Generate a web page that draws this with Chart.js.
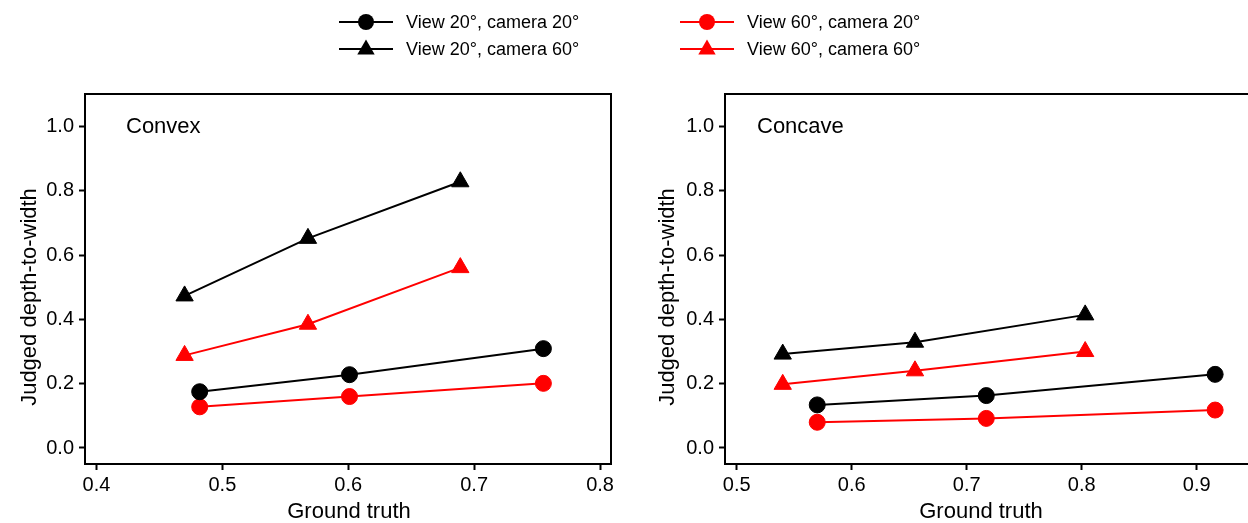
<!DOCTYPE html>
<html>
<head>
  <title>Judged depth-to-width vs ground truth</title>
  <script src="https://cdn.jsdelivr.net/npm/chart.js"></script>
  <style>
    body {
      margin: 0;
      background: #fff;
      font-family: 'Liberation Sans', Arial, sans-serif;
    }
    #wrap { position: relative; width: 1248px; height: 523px; overflow: hidden; }
    .panel { position: absolute; top: 0; height: 523px; }
    #left { left: 0; width: 624px; }
    #right { left: 624px; width: 640px; }
    /* shared legend above both panels */
    .item {
      position: absolute;
      display: flex;
      align-items: center;
      white-space: nowrap;
      height: 20px;
      font-size: 18px;
      color: #000;
    }
    .item svg { width: 54px; height: 20px; margin-right: 13px; }
  </style>
</head>
<body>
<div id="wrap">
  <div class="panel" id="left"><canvas id="convexChart"></canvas></div>
  <div class="panel" id="right"><canvas id="concaveChart"></canvas></div>
  <div id="legend"></div>
</div>

<script>
  // ---- data ----
  const seriesLabels = ['View 20°, camera 20°', 'View 20°, camera 60°', 'View 60°, camera 20°', 'View 60°, camera 60°'];
  const seriesColors = ['#000000', '#000000', '#ff0000', '#ff0000'];
  const seriesShapes = ['circle', 'triangle', 'circle', 'triangle'];

  // Convex panel (ground truth differs between the camera 20 and camera 60 series)
  const convexTruthCam20 = [0.482, 0.601, 0.755];
  const convexTruthCam60 = [0.470, 0.568, 0.689];
  const convexV20C20 = [0.175, 0.228, 0.309];
  const convexV20C60 = [0.473, 0.652, 0.828];
  const convexV60C20 = [0.128, 0.160, 0.201];
  const convexV60C60 = [0.288, 0.385, 0.561];

  // Concave panel
  const concaveTruthCam20 = [0.570, 0.717, 0.916];
  const concaveTruthCam60 = [0.540, 0.655, 0.803];
  const concaveV20C20 = [0.134, 0.163, 0.229];
  const concaveV20C60 = [0.292, 0.329, 0.414];
  const concaveV60C20 = [0.080, 0.092, 0.118];
  const concaveV60C60 = [0.198, 0.240, 0.300];

  const yTicks = [0.0, 0.2, 0.4, 0.6, 0.8, 1.0];
  const convexXTicks = [0.4, 0.5, 0.6, 0.7, 0.8];
  const concaveXTicks = [0.5, 0.6, 0.7, 0.8, 0.9];

  const FONT = "'Liberation Sans', Arial, sans-serif";

  function toPoints(xs, ys) {
    return xs.map((x, i) => ({ x: x, y: ys[i] }));
  }

  function buildDatasets(truth20, truth60, v20c20, v20c60, v60c20, v60c60) {
    const pairs = [[truth20, v20c20], [truth60, v20c60], [truth20, v60c20], [truth60, v60c60]];
    return pairs.map((p, i) => ({
      label: seriesLabels[i],
      data: toPoints(p[0], p[1]),
      showLine: true,
      borderColor: seriesColors[i],
      backgroundColor: seriesColors[i],
      borderWidth: 2,
      pointStyle: seriesShapes[i],
      pointRadius: seriesShapes[i] === 'circle' ? 8 : 10,
      pointHoverRadius: seriesShapes[i] === 'circle' ? 8 : 10,
      pointBorderWidth: 1
    }));
  }

  // full box around the plot + panel name + axis titles
  const framePlugin = {
    id: 'frame',
    afterDraw: (chart) => {
      const a = chart.chartArea;
      const ctx = chart.ctx;
      const o = chart.options.plugins.frame;
      ctx.save();
      ctx.strokeStyle = '#000';
      ctx.lineWidth = 2;
      ctx.strokeRect(a.left, a.top, a.right - a.left, a.bottom - a.top);

      ctx.fillStyle = '#000';
      ctx.font = '22px ' + FONT;
      ctx.textBaseline = 'middle';
      ctx.textAlign = 'left';
      ctx.fillText(o.name, o.nameX, 127);

      ctx.textAlign = 'center';
      ctx.fillText('Ground truth', o.xTitleX, 512);

      ctx.translate(o.titleX, 297);
      ctx.rotate(-Math.PI / 2);
      ctx.fillText('Judged depth-to-width', 0, 0);
      ctx.restore();
    }
  };

  function makeChart(id, datasets, xMin, xMax, xTicks, padRight, yWidth, name, nameX, titleX, xTitleX) {
    return new Chart(document.getElementById(id), {
      type: 'scatter',
      data: { datasets: datasets },
      options: {
        responsive: false,
        animation: false,
        layout: { autoPadding: false, padding: { top: 94, right: padRight, left: 0, bottom: 0 } },
        plugins: {
          legend: { display: false },
          tooltip: { enabled: false },
          frame: { name: name, nameX: nameX, titleX: titleX, xTitleX: xTitleX }
        },
        scales: {
          x: {
            type: 'linear',
            min: xMin,
            max: xMax,
            afterBuildTicks: (s) => { s.ticks = xTicks.map(v => ({ value: v })); },
            afterFit: (s) => { s.height = 59; s.paddingLeft = 0; s.paddingRight = 0; },
            grid: { display: true, drawOnChartArea: false, drawTicks: true, tickLength: 6, tickWidth: 2, tickColor: '#000', color: '#000' },
            border: { display: true, color: '#000', width: 2 },
            ticks: { color: '#000', font: { size: 20, family: FONT }, padding: 3, maxRotation: 0, callback: v => v.toFixed(1) }
          },
          y: {
            type: 'linear',
            min: -0.0498,
            max: 1.101,
            afterBuildTicks: (s) => { s.ticks = yTicks.map(v => ({ value: v })); },
            afterFit: (s) => { s.width = yWidth; },
            grid: { display: true, drawOnChartArea: false, drawTicks: true, tickLength: 6, tickWidth: 2, tickColor: '#000', color: '#000' },
            border: { display: true, color: '#000', width: 2 },
            ticks: { color: '#000', font: { size: 20, family: FONT }, padding: 5, callback: v => v.toFixed(1) }
          }
        }
      },
      plugins: [framePlugin]
    });
  }

  function sizeCanvas(id, w) {
    const c = document.getElementById(id);
    c.width = w; c.height = 523;
    c.style.width = w + 'px'; c.style.height = '523px';
  }
  sizeCanvas('convexChart', 624);
  sizeCanvas('concaveChart', 640);

  makeChart('convexChart',
    buildDatasets(convexTruthCam20, convexTruthCam60, convexV20C20, convexV20C60, convexV60C20, convexV60C60),
    0.3909, 0.8087, convexXTicks, 13, 85, 'Convex', 126, 30, 349);

  // right panel runs past the page edge, as in the figure
  makeChart('concaveChart',
    buildDatasets(concaveTruthCam20, concaveTruthCam60, concaveV20C20, concaveV20C60, concaveV60C20, concaveV60C60),
    0.4898, 0.9585, concaveXTicks, 0, 101, 'Concave', 133, 44, 357);

  // legend in html, two columns
  const legendPos = [[339, 12], [339, 39], [680, 12], [680, 39]];
  const legend = document.getElementById('legend');
  seriesLabels.forEach((lab, i) => {
    const c = seriesColors[i];
    const marker = seriesShapes[i] === 'circle'
      ? `<circle cx="27" cy="10" r="8" fill="${c}"/>`
      : `<polygon points="27,0.5 35.7,15.5 18.3,15.5" fill="${c}"/>`;
    const div = document.createElement('div');
    div.className = 'item';
    div.style.left = legendPos[i][0] + 'px';
    div.style.top = legendPos[i][1] + 'px';
    div.innerHTML = `<svg viewBox="0 0 54 20"><line x1="0" y1="10" x2="54" y2="10" stroke="${c}" stroke-width="2"/>${marker}</svg><span>${lab}</span>`;
    legend.appendChild(div);
  });
</script>
</body>
</html>
